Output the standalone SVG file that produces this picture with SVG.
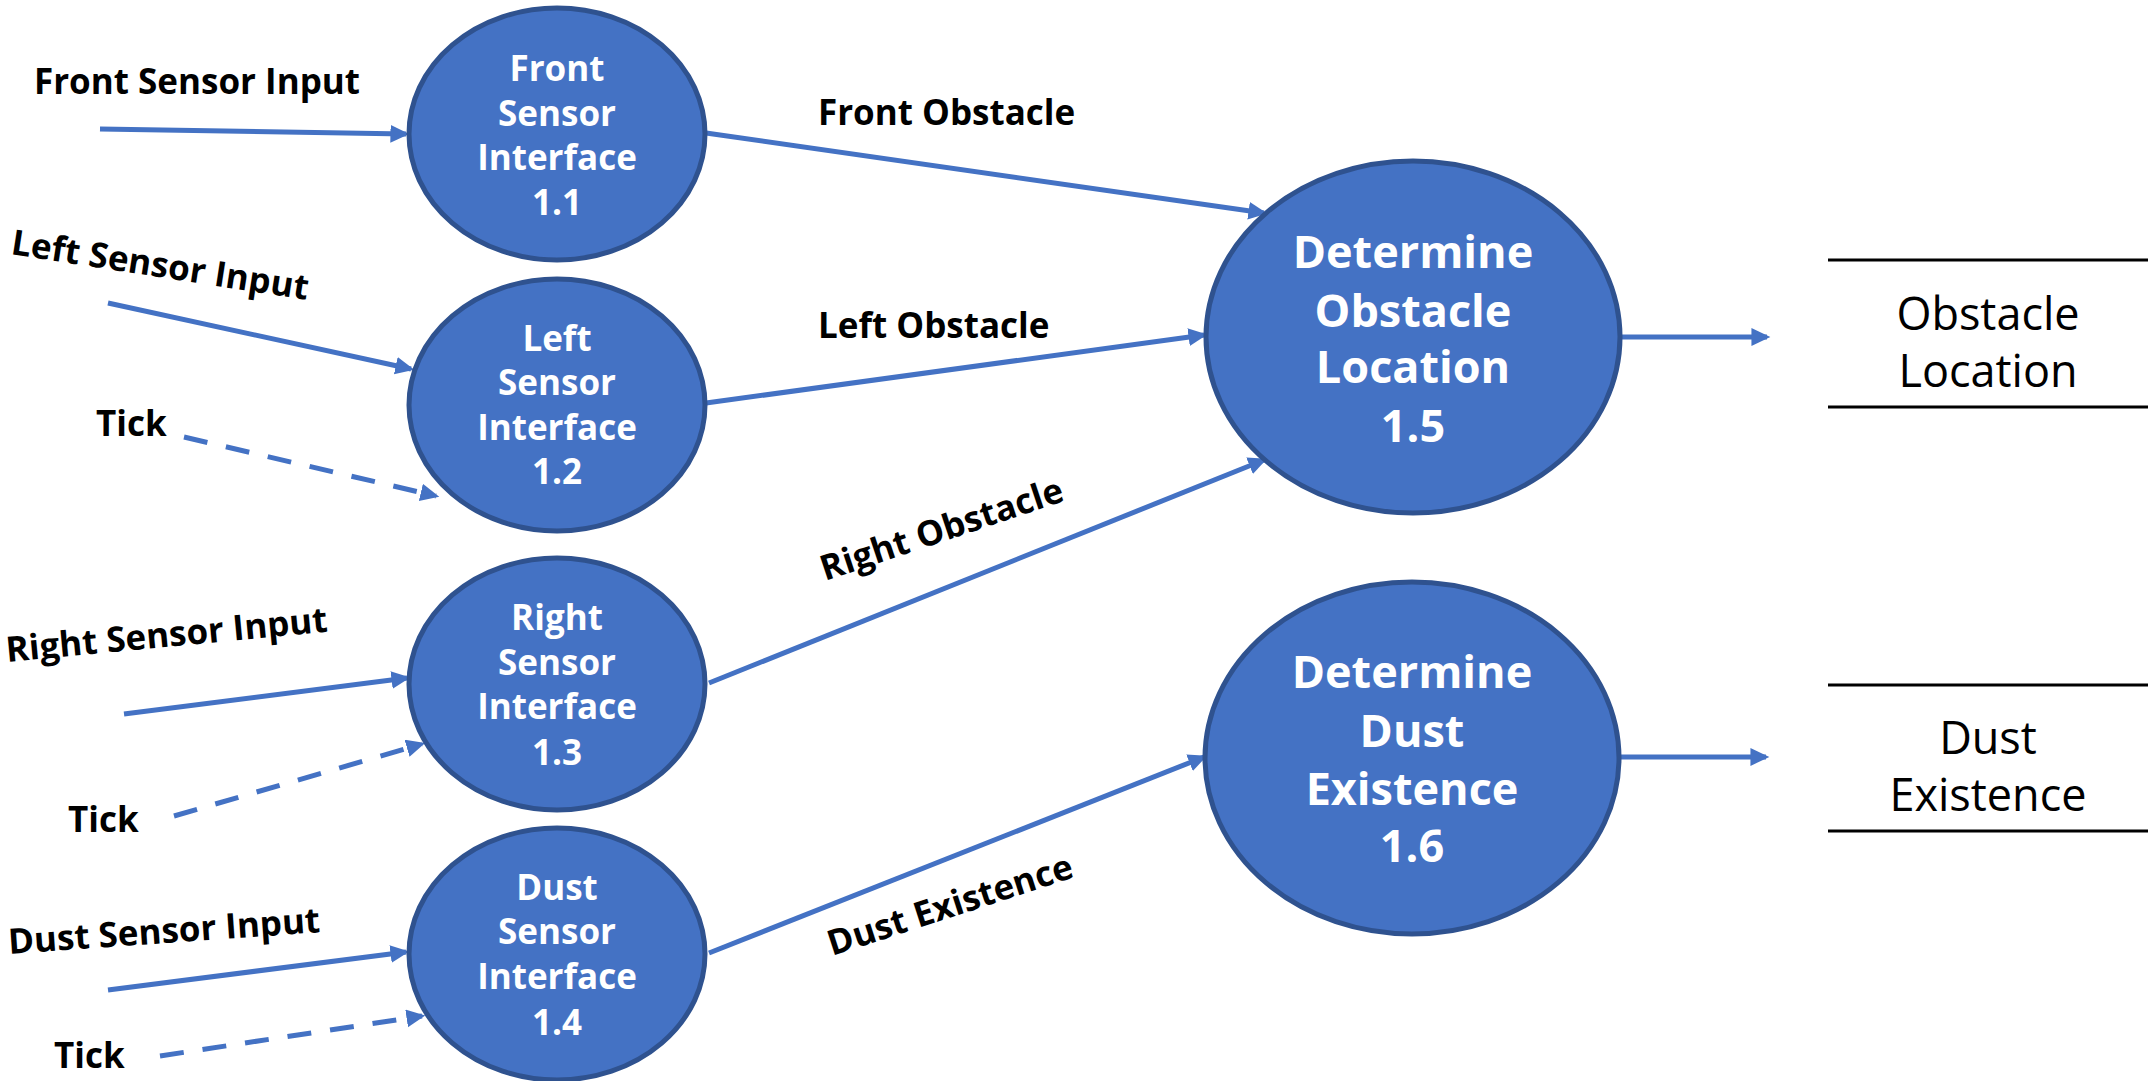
<svg xmlns="http://www.w3.org/2000/svg" width="2151" height="1081" viewBox="0 0 2151 1081">
  <defs>
    <marker id="arrow" markerUnits="userSpaceOnUse" markerWidth="20" markerHeight="20" viewBox="0 0 18 18" refX="14" refY="8" orient="auto">
      <path d="M0,0 L17,8 L0,16 z" fill="#4472C4"/>
    </marker>
    <style>
      .node { fill: #4472C4; stroke: #2F528F; stroke-width: 5; }
      .ntxt { font-family: "Open Sans", "Noto Sans", sans-serif; font-weight: 700; fill: #FFFFFF; text-anchor: middle; }
      .small { font-size: 35px; }
      .big { font-size: 45px; }
      .flow { stroke: #4472C4; stroke-width: 5; fill: none; marker-end: url(#arrow); }
      .dash { stroke-dasharray: 24 19; }
      .lbl { font-family: "Open Sans", "Noto Sans", sans-serif; font-weight: 700; font-size: 35px; fill: #000000; }
      .store { stroke: #000000; stroke-width: 3; }
      .stxt { font-family: "Open Sans", "Noto Sans", sans-serif; font-weight: 400; font-size: 45px; fill: #000000; text-anchor: middle; }
    </style>
  </defs>

  <g id="connectors">
    <line class="flow" x1="100" y1="129" x2="406" y2="134"/>
    <line class="flow" x1="108" y1="303" x2="411" y2="369"/>
    <line class="flow dash" x1="184" y1="437" x2="436" y2="496"/>
    <line class="flow" x1="124" y1="714" x2="407" y2="678"/>
    <line class="flow dash" x1="174" y1="816" x2="422" y2="744"/>
    <line class="flow" x1="108" y1="990" x2="406" y2="952"/>
    <line class="flow dash" x1="160" y1="1056" x2="422" y2="1016"/>
    <line class="flow" x1="706" y1="133" x2="1264" y2="213"/>
    <line class="flow" x1="706" y1="403" x2="1204" y2="335"/>
    <line class="flow" x1="709" y1="683" x2="1264" y2="460"/>
    <line class="flow" x1="709" y1="953" x2="1204" y2="757"/>
    <line class="flow" x1="1621" y1="337" x2="1767" y2="337"/>
    <line class="flow" x1="1619" y1="757" x2="1766" y2="757"/>

    <text class="lbl" x="34" y="94">Front Sensor Input</text>
    <text class="lbl" transform="translate(10,254) rotate(8.8)">Left Sensor Input</text>
    <text class="lbl" x="96" y="436">Tick</text>
    <text class="lbl" transform="translate(7,662) rotate(-5.4)">Right Sensor Input</text>
    <text class="lbl" x="68" y="832">Tick</text>
    <text class="lbl" transform="translate(9,954) rotate(-4)">Dust Sensor Input</text>
    <text class="lbl" x="54" y="1068">Tick</text>
    <text class="lbl" x="818" y="125">Front Obstacle</text>
    <text class="lbl" x="818" y="338">Left Obstacle</text>
    <text class="lbl" transform="translate(825,581) rotate(-18.5)">Right Obstacle</text>
    <text class="lbl" transform="translate(832,956) rotate(-18)">Dust Existence</text>
  </g>

  <g id="node-1-1">
    <ellipse class="node" cx="557" cy="134" rx="148" ry="126"/>
    <text class="ntxt small" x="557" y="81">Front</text>
    <text class="ntxt small" x="557" y="126">Sensor</text>
    <text class="ntxt small" x="557" y="170">Interface</text>
    <text class="ntxt small" x="557" y="215">1.1</text>
  </g>
  <g id="node-1-2">
    <ellipse class="node" cx="557" cy="405" rx="148" ry="126"/>
    <text class="ntxt small" x="557" y="351">Left</text>
    <text class="ntxt small" x="557" y="395">Sensor</text>
    <text class="ntxt small" x="557" y="440">Interface</text>
    <text class="ntxt small" x="557" y="484">1.2</text>
  </g>
  <g id="node-1-3">
    <ellipse class="node" cx="557" cy="684" rx="148" ry="126"/>
    <text class="ntxt small" x="557" y="630">Right</text>
    <text class="ntxt small" x="557" y="675">Sensor</text>
    <text class="ntxt small" x="557" y="719">Interface</text>
    <text class="ntxt small" x="557" y="765">1.3</text>
  </g>
  <g id="node-1-4">
    <ellipse class="node" cx="557" cy="954" rx="148" ry="126"/>
    <text class="ntxt small" x="557" y="900">Dust</text>
    <text class="ntxt small" x="557" y="944">Sensor</text>
    <text class="ntxt small" x="557" y="989">Interface</text>
    <text class="ntxt small" x="557" y="1035">1.4</text>
  </g>
  <g id="node-1-5">
    <ellipse class="node" cx="1413" cy="337" rx="207" ry="176"/>
    <text class="ntxt big" x="1413" y="268">Determine</text>
    <text class="ntxt big" x="1413" y="327">Obstacle</text>
    <text class="ntxt big" x="1413" y="383">Location</text>
    <text class="ntxt big" x="1413" y="442">1.5</text>
  </g>
  <g id="node-1-6">
    <ellipse class="node" cx="1412" cy="758" rx="207" ry="176"/>
    <text class="ntxt big" x="1412" y="688">Determine</text>
    <text class="ntxt big" x="1412" y="747">Dust</text>
    <text class="ntxt big" x="1412" y="805">Existence</text>
    <text class="ntxt big" x="1412" y="862">1.6</text>
  </g>
  <g id="store-obstacle-location">
    <line class="store" x1="1828" y1="260" x2="2148" y2="260"/>
    <line class="store" x1="1828" y1="407" x2="2148" y2="407"/>
    <text class="stxt" x="1988" y="330">Obstacle</text>
    <text class="stxt" x="1988" y="387">Location</text>
  </g>
  <g id="store-dust-existence">
    <line class="store" x1="1828" y1="685" x2="2148" y2="685"/>
    <line class="store" x1="1828" y1="831" x2="2148" y2="831"/>
    <text class="stxt" x="1988" y="754">Dust</text>
    <text class="stxt" x="1988" y="811">Existence</text>
  </g>
</svg>
